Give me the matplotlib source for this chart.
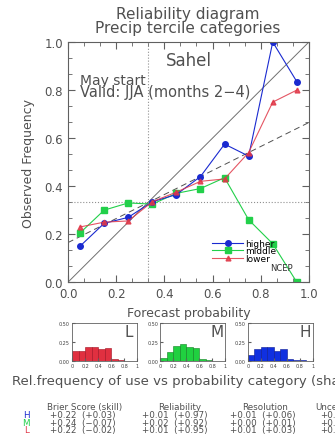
import matplotlib.pyplot as plt
import numpy as np
from matplotlib.ticker import AutoMinorLocator

# forecast probability bin centres
prob = [0.05, 0.15, 0.25, 0.35, 0.45, 0.55, 0.65, 0.75, 0.85, 0.95]
higher = [0.15, 0.245, 0.27, 0.335, 0.365, 0.44, 0.575, 0.525, 1.0, 0.835]
middle = [0.205, 0.30, 0.33, 0.325, 0.37, 0.39, 0.435, 0.26, 0.16, 0.0]
lower = [0.23, 0.25, 0.255, 0.335, 0.375, 0.42, 0.43, 0.54, 0.75, 0.80]

# regression (dashed) line end points
reg_x = [0.0, 1.0]
reg_y = [0.165, 0.665]

# relative frequency of use per bin
hist_bins = [0.0, 0.1, 0.2, 0.3, 0.4, 0.5, 0.6, 0.7, 0.8, 0.9]
hist_L = [0.125, 0.125, 0.19, 0.185, 0.155, 0.17, 0.02, 0.008, 0.0, 0.0]
hist_M = [0.045, 0.12, 0.195, 0.225, 0.185, 0.175, 0.03, 0.012, 0.005, 0.0]
hist_H = [0.075, 0.155, 0.18, 0.19, 0.135, 0.16, 0.02, 0.015, 0.01, 0.0]

# score table
score_cats = ['H', 'M', 'L']
brier = ['+0.22  (+0.03)', '+0.24  (\u22120.07)', '+0.22  (\u22120.02)']
reliab = ['+0.01  (+0.97)', '+0.02  (+0.92)', '+0.01  (+0.95)']
resol = ['+0.01  (+0.06)', '+0.00  (+0.01)', '+0.01  (+0.03)']
uncert = ['+0.22', '+0.22', '+0.22']

txt = '#505050'
blue = '#1a2ad0'
green = '#22d04a'
red = '#e03848'

plt.rcParams['font.family'] = 'DejaVu Sans'
fig = plt.figure(figsize=(3.35, 4.35), dpi=100)

ax = fig.add_axes([0.203, 0.349, 0.719, 0.552])
ax.set_xlim(0, 1)
ax.set_ylim(0, 1)
ax.plot([0, 1], [0, 1], color='#707070', lw=0.7)
ax.plot(reg_x, reg_y, color='#505050', lw=0.7, ls=(0, (6, 4)))
ax.axvline(1/3, color='#909090', lw=0.8, ls=':')
ax.axhline(1/3, color='#909090', lw=0.8, ls=':')

ax.plot(prob, middle, color=green, lw=0.8, marker='s', ms=4, label='middle')
ax.plot(prob, higher, color=blue, lw=0.8, marker='o', ms=4, label='higher')
ax.plot(prob, lower, color=red, lw=0.8, marker='^', ms=3.5, label='lower', alpha=0.85)

h, l = ax.get_legend_handles_labels()
order = [1, 0, 2]
ax.legend([h[i] for i in order], [l[i] for i in order], loc='upper left',
          bbox_to_anchor=(0.58, 0.2), frameon=False, fontsize=6.5,
          handlelength=3.4, handletextpad=0.3, labelspacing=-0.15,
          borderpad=0)

ax.text(0.5, 0.925, 'Sahel', ha='center', va='center', fontsize=12, color=txt)
ax.text(0.05, 0.84, 'May start', ha='left', va='center', fontsize=10, color=txt)
ax.text(0.05, 0.795, 'Valid: JJA (months 2\u22124)', ha='left', va='center', fontsize=10.5, color=txt)
ax.text(0.885, 0.06, 'NCEP', ha='center', va='center', fontsize=6, color='#303030')

ax.set_xticks(np.arange(0, 1.01, 0.2))
ax.set_yticks(np.arange(0, 1.01, 0.2))
ax.xaxis.set_minor_locator(AutoMinorLocator(3))
ax.yaxis.set_minor_locator(AutoMinorLocator(3))
ax.tick_params(which='both', direction='in', top=True, right=True, colors='#606060',
               labelcolor=txt, labelsize=8.5)
ax.tick_params(which='major', length=5)
ax.tick_params(which='minor', length=3)
for s in ax.spines.values():
    s.set_color('#606060')
ax.set_xlabel('Forecast probability', fontsize=9, color=txt, labelpad=4)
ax.set_ylabel('Observed Frequency', fontsize=9, color=txt, labelpad=7)

fig.text(0.561, 0.966, 'Reliability diagram', ha='center', va='center', fontsize=11, color=txt)
fig.text(0.561, 0.935, 'Precip tercile categories', ha='center', va='center', fontsize=11, color=txt)

# sharpness histograms
hist_specs = [(0.215, hist_L, '#e03040', '#a01020', 'L'),
              (0.478, hist_M, '#20d040', '#108020', 'M'),
              (0.740, hist_H, '#1030e0', '#0a1890', 'H')]
for left, vals, fc, ec, lab in hist_specs:
    hx = fig.add_axes([left, 0.168, 0.194, 0.087])
    hx.bar(hist_bins, vals, width=0.1, align='edge', color=fc, edgecolor=ec, lw=0.4)
    hx.set_xlim(0, 1)
    hx.set_ylim(0, 0.5)
    hx.set_xticks([0, 0.2, 0.4, 0.6, 0.8, 1.0])
    hx.set_xticklabels(['0', '0.2', '0.4', '0.6', '0.8', '1'])
    hx.set_yticks([0, 0.25, 0.5])
    hx.set_yticklabels(['0.00', '0.25', '0.50'])
    hx.tick_params(direction='in', labelsize=3.5, length=2, pad=1.5, colors='#606060',
                   labelcolor='#404040')
    for s in hx.spines.values():
        s.set_color('#606060')
        s.set_linewidth(0.6)
    hx.text(0.88, 0.78, lab, transform=hx.transAxes, ha='center', va='center',
            fontsize=11, color=txt)

fig.text(0.035, 0.124, 'Rel.frequency of use vs probability category (sharpness)',
         ha='left', va='center', fontsize=9.5, color=txt)

# score table
fs = 6.3
y0 = 1 - 408 / 435
dy = 7.6 / 435
fig.text(0.252, y0, 'Brier Score (skill)', ha='center', va='center', fontsize=fs, color=txt)
fig.text(0.537, y0, 'Reliability', ha='center', va='center', fontsize=fs, color=txt)
fig.text(0.791, y0, 'Resolution', ha='center', va='center', fontsize=fs, color=txt)
fig.text(0.94, y0, 'Uncertainty', ha='left', va='center', fontsize=fs, color=txt)
cat_cols = {'H': blue, 'M': green, 'L': red}
for i, c in enumerate(score_cats):
    yy = y0 - (i + 1) * dy
    fig.text(0.078, yy, c, ha='center', va='center', fontsize=fs, color=cat_cols[c])
    fig.text(0.149, yy, brier[i], ha='left', va='center', fontsize=fs, color=txt)
    fig.text(0.424, yy, reliab[i], ha='left', va='center', fontsize=fs, color=txt)
    fig.text(0.687, yy, resol[i], ha='left', va='center', fontsize=fs, color=txt)
    fig.text(0.955, yy, uncert[i], ha='left', va='center', fontsize=fs, color=txt)

fig.savefig('out.png', dpi=100)
